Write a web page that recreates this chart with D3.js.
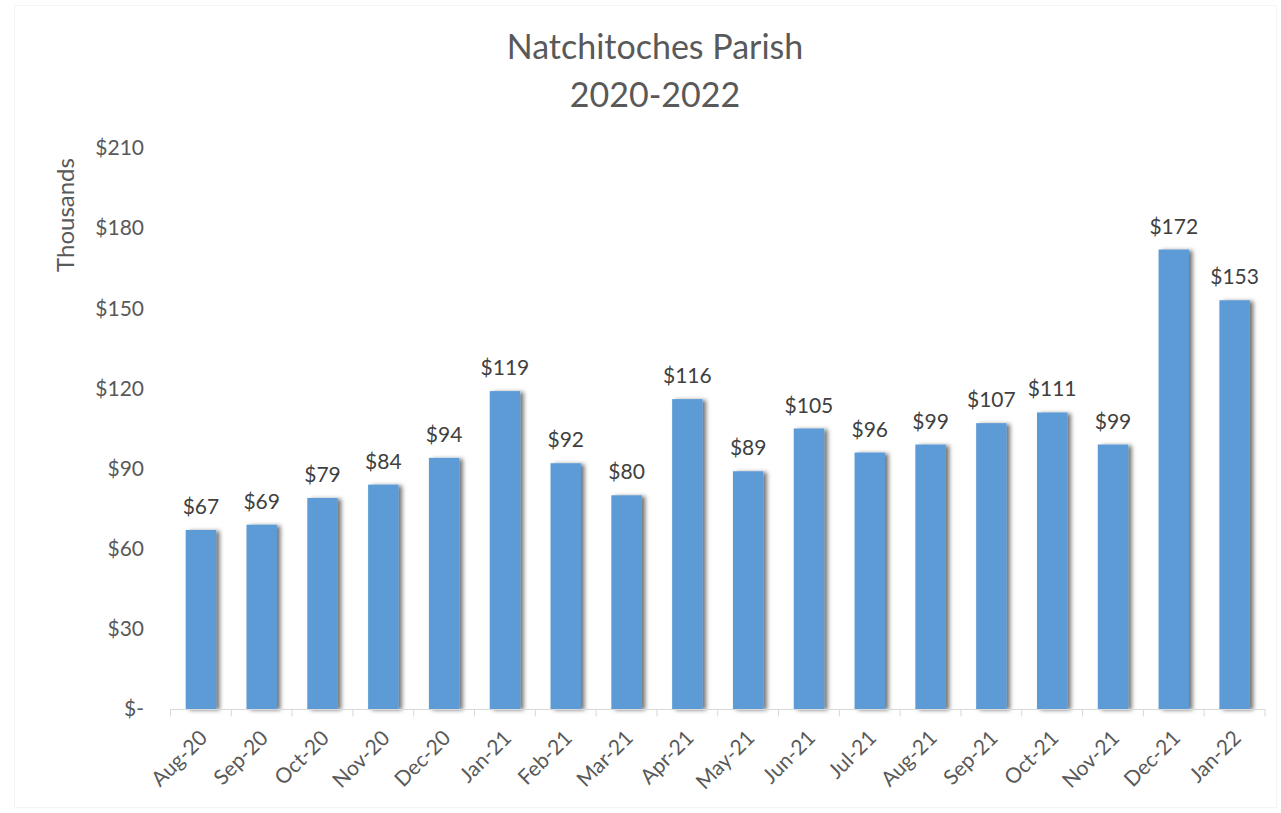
<!DOCTYPE html>
<html>
<head>
<meta charset="utf-8">
<script src="https://cdn.jsdelivr.net/npm/d3@7"></script>
<style>
  html, body { margin: 0; padding: 0; background: #fff; }
  svg { display: block; font-family: Lato, "Open Sans", sans-serif; }
</style>
</head>
<body>
<svg id="chart" width="1281" height="813"></svg>
<script>
// Monthly totals, in thousands of dollars
const months = ["Aug-20","Sep-20","Oct-20","Nov-20","Dec-20","Jan-21","Feb-21","Mar-21","Apr-21",
                "May-21","Jun-21","Jul-21","Aug-21","Sep-21","Oct-21","Nov-21","Dec-21","Jan-22"];
const values = [67, 69, 79, 84, 94, 119, 92, 80, 116, 89, 105, 96, 99, 107, 111, 99, 172, 153];
const yTicks = [0, 30, 60, 90, 120, 150, 180, 210];
const titleLines = ["Natchitoches Parish", "2020-2022"];
const yAxisTitle = "Thousands";

const svg = d3.select("#chart");
const textColor = "#595959";
const barColor = "#5B9BD5";

const x = d3.scaleBand().domain(months).range([170.5, 1265]).paddingInner(0.5).paddingOuter(0.25);
const y = d3.scaleLinear().domain([0, 210]).range([709, 148]);

// faint chart-area frame
svg.append("rect").attr("x", 14.5).attr("y", 5.5).attr("width", 1262).attr("height", 802)
  .attr("fill", "none").attr("stroke", "#f4f4f4");

// soft shadow behind bars
const defs = svg.append("defs");
const f = defs.append("filter").attr("id", "shadow").attr("x", "-30%").attr("y", "-10%")
  .attr("width", "160%").attr("height", "120%");
f.append("feDropShadow").attr("dx", 3.5).attr("dy", 1).attr("stdDeviation", 2)
  .attr("flood-color", "#000").attr("flood-opacity", 0.55);

// title
svg.append("g").selectAll("text").data(titleLines).join("text")
  .attr("x", 655).attr("y", (d, i) => 59 + i * 48)
  .attr("text-anchor", "middle").attr("fill", textColor)
  .attr("font-size", 34).text(d => d);

// y axis labels (no line)
const fmt = v => v === 0 ? "$-" : "$" + v;
const yAxis = d3.axisLeft(y).tickValues(yTicks).tickFormat(fmt).tickSize(0).tickPadding(0);
const yg = svg.append("g").attr("transform", "translate(144,0)").call(yAxis);
yg.select(".domain").remove();
yg.selectAll("text").attr("fill", textColor).attr("font-size", 21)
  .attr("font-family", "Lato, 'Open Sans', sans-serif");

svg.append("text").attr("transform", "translate(74,215) rotate(-90)")
  .attr("text-anchor", "middle").attr("fill", textColor).attr("font-size", 24)
  .text(yAxisTitle);

// bars
svg.append("g").selectAll("rect").data(values).join("rect")
  .attr("x", (d, i) => x(months[i]))
  .attr("y", d => y(d))
  .attr("width", x.bandwidth())
  .attr("height", d => y(0) - y(d))
  .attr("fill", barColor)
  .attr("filter", "url(#shadow)");

// value labels
svg.append("g").selectAll("text").data(values).join("text")
  .attr("x", (d, i) => x(months[i]) + x.bandwidth() / 2)
  .attr("y", d => y(d) - 16)
  .attr("text-anchor", "middle").attr("fill", "#404040").attr("font-size", 21)
  .text(d => "$" + d);

// x axis with ticks between categories
const xg = svg.append("g").attr("transform", "translate(0,709.5)");
const step = x.step();
const left = x(months[0]) - x.bandwidth() / 2;
const edges = d3.range(months.length + 1).map(i => left + i * step);
xg.append("line").attr("x1", edges[0]).attr("x2", edges[edges.length - 1])
  .attr("stroke", "#d9d9d9").attr("stroke-width", 1);
xg.selectAll("line.tick").data(edges).join("line").attr("class", "tick")
  .attr("x1", d => d).attr("x2", d => d).attr("y1", 0).attr("y2", 7)
  .attr("stroke", "#d9d9d9");
xg.selectAll("text").data(months).join("text")
  .attr("transform", d => `translate(${x(d) + x.bandwidth() / 2 + 4},${26}) rotate(-45)`)
  .attr("text-anchor", "end").attr("dominant-baseline", "middle")
  .attr("fill", textColor).attr("font-size", 21)
  .text(d => d);
</script>
</body>
</html>
